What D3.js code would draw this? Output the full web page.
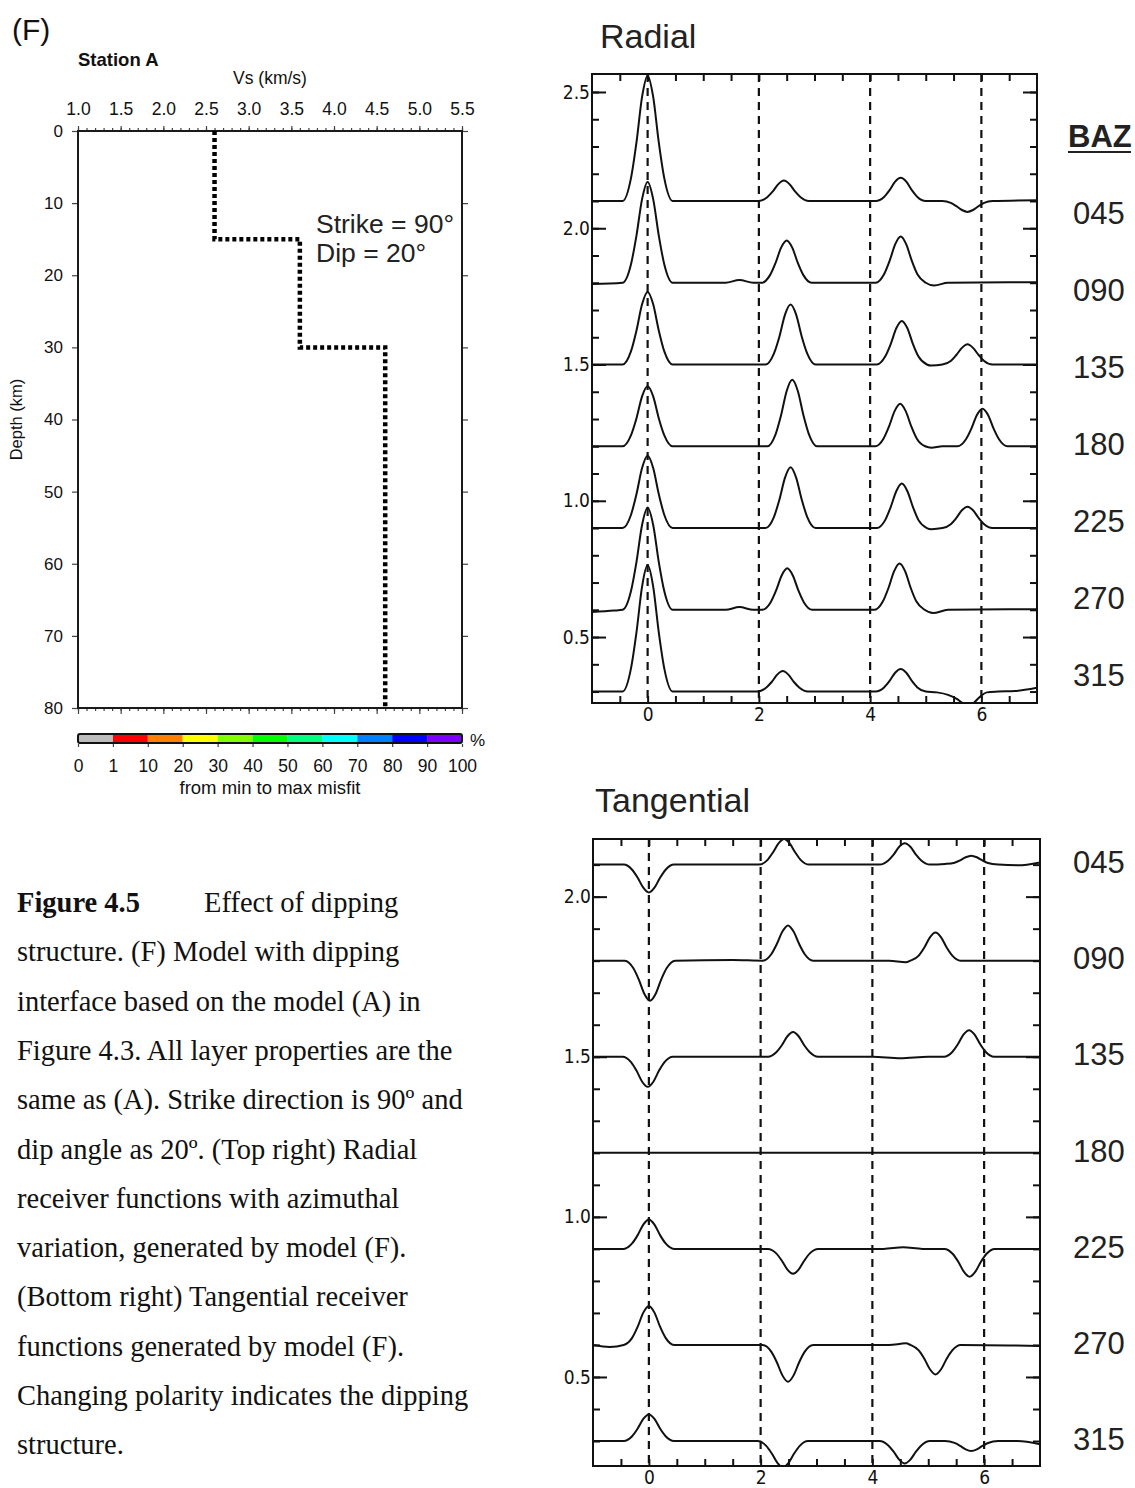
<!DOCTYPE html>
<html lang="en">
<head>
<meta charset="UTF-8">
<title>Figure 4.5 - dipping structure</title>
<script src="https://d3js.org/d3.v7.min.js"></script>
<style>
  body { margin: 0; background: #fff; }
  svg { display: block; }
  .sans { font-family: "Liberation Sans", Arial, Helvetica, sans-serif; }
  .narrow { font-family: "Liberation Sans Narrow", "DejaVu Sans Condensed", "Liberation Sans", sans-serif; }
  .serif { font-family: "Liberation Serif", "Times New Roman", serif; }
</style>
</head>
<body>
<svg id="fig" width="1135" height="1488"></svg>
<script>
// ---- data ----
const bazLabels = ["045", "090", "135", "180", "225", "270", "315"];
const baselines = [2.1, 1.8, 1.5, 1.2, 0.9, 0.6, 0.3];
const gridTimes = [0, 2, 4, 6];

// radial receiver functions: [time (s), amplitude above baseline]
const radialTraces = [
  [[-1,0],[-0.45,0],[-0.3,0.083],[-0.2,0.216],[-0.1,0.382],[0,0.46],[0.1,0.382],[0.2,0.216],[0.3,0.083],[0.45,0],[2.0,0],[2.15,0.014],[2.25,0.035],[2.35,0.062],[2.45,0.075],[2.55,0.062],[2.65,0.035],[2.75,0.014],[2.9,0],[4.1,0],[4.25,0.015],[4.35,0.04],[4.45,0.071],[4.55,0.085],[4.65,0.071],[4.75,0.04],[4.85,0.015],[5.0,0],[5.3,0],[5.45,-0.007],[5.55,-0.019],[5.65,-0.033],[5.75,-0.04],[5.85,-0.033],[5.95,-0.019],[6.05,-0.007],[6.2,0],[7,0.003]],
  [[-1,-0.005],[-0.45,0],[-0.3,0.067],[-0.2,0.174],[-0.1,0.307],[0,0.37],[0.1,0.307],[0.2,0.174],[0.3,0.067],[0.45,0],[1.4,0],[1.65,0.01],[1.9,0],[2.05,0],[2.2,0.028],[2.3,0.073],[2.4,0.129],[2.5,0.155],[2.6,0.129],[2.7,0.073],[2.8,0.028],[2.95,0],[4.1,0],[4.25,0.031],[4.35,0.08],[4.45,0.141],[4.55,0.17],[4.65,0.141],[4.75,0.08],[4.85,0.031],[5.0,0],[5.15,-0.01],[5.4,0],[7,0.002]],
  [[-1,0],[-0.45,0],[-0.3,0.048],[-0.2,0.125],[-0.1,0.221],[0,0.266],[0.1,0.221],[0.2,0.125],[0.3,0.048],[0.45,0],[2.12,0],[2.27,0.04],[2.37,0.103],[2.47,0.183],[2.57,0.22],[2.67,0.183],[2.77,0.103],[2.87,0.04],[3.02,0],[4.12,0],[4.27,0.029],[4.37,0.075],[4.47,0.133],[4.57,0.16],[4.67,0.133],[4.77,0.075],[4.87,0.029],[5.02,0],[5.1,-0.004],[5.3,0],[5.45,0.013],[5.55,0.035],[5.65,0.061],[5.75,0.074],[5.85,0.061],[5.95,0.035],[6.05,0.013],[6.2,0],[7,0]],
  [[-1,0],[-0.45,0],[-0.3,0.04],[-0.2,0.103],[-0.1,0.183],[0,0.22],[0.1,0.183],[0.2,0.103],[0.3,0.04],[0.45,0],[2.15,0],[2.3,0.044],[2.4,0.115],[2.5,0.203],[2.6,0.244],[2.7,0.203],[2.8,0.115],[2.9,0.044],[3.05,0],[4.09,0],[4.24,0.028],[4.34,0.073],[4.44,0.129],[4.54,0.156],[4.64,0.129],[4.74,0.073],[4.84,0.028],[4.99,0],[5.1,-0.005],[5.3,0],[5.57,0],[5.72,0.025],[5.82,0.065],[5.92,0.115],[6.02,0.138],[6.12,0.115],[6.22,0.065],[6.32,0.025],[6.47,0],[7,0]],
  [[-1,0],[-0.45,0],[-0.3,0.048],[-0.2,0.125],[-0.1,0.22],[0,0.265],[0.1,0.22],[0.2,0.125],[0.3,0.048],[0.45,0],[2.12,0],[2.27,0.04],[2.37,0.105],[2.47,0.185],[2.57,0.223],[2.67,0.185],[2.77,0.105],[2.87,0.04],[3.02,0],[4.12,0],[4.27,0.029],[4.37,0.077],[4.47,0.135],[4.57,0.163],[4.67,0.135],[4.77,0.077],[4.87,0.029],[5.02,0],[5.1,-0.004],[5.3,0],[5.45,0.014],[5.55,0.037],[5.65,0.065],[5.75,0.078],[5.85,0.065],[5.95,0.037],[6.05,0.014],[6.2,0],[7,0]],
  [[-1,-0.008],[-0.6,-0.003],[-0.45,0],[-0.3,0.068],[-0.2,0.176],[-0.1,0.311],[0,0.375],[0.1,0.311],[0.2,0.176],[0.3,0.068],[0.45,0],[1.4,0],[1.65,0.01],[1.9,0],[2.06,0],[2.21,0.027],[2.31,0.071],[2.41,0.126],[2.51,0.152],[2.61,0.126],[2.71,0.071],[2.81,0.027],[2.96,0],[4.08,0],[4.23,0.031],[4.33,0.08],[4.43,0.141],[4.53,0.17],[4.63,0.141],[4.73,0.08],[4.83,0.031],[4.98,0],[5.13,-0.012],[5.4,0],[7,0.002]],
  [[-1,0],[-0.45,0],[-0.3,0.084],[-0.2,0.218],[-0.1,0.385],[0,0.464],[0.1,0.385],[0.2,0.218],[0.3,0.084],[0.45,0],[1.98,0],[2.13,0.014],[2.23,0.035],[2.33,0.062],[2.43,0.075],[2.53,0.062],[2.63,0.035],[2.73,0.014],[2.88,0],[4.1,0],[4.25,0.015],[4.35,0.039],[4.45,0.069],[4.55,0.083],[4.65,0.069],[4.75,0.039],[4.85,0.015],[5.0,0],[5.2,-0.003],[5.4,-0.012],[5.55,-0.026],[5.67,-0.043],[5.77,-0.05],[5.87,-0.04],[5.97,-0.02],[6.1,-0.003],[6.3,0],[6.6,0.002],[7,0.014]]
];

// tangential receiver functions
const tangentialTraces = [
  [[-1,0],[-0.45,0],[-0.3,-0.016],[-0.2,-0.041],[-0.1,-0.072],[0,-0.087],[0.1,-0.072],[0.2,-0.041],[0.3,-0.016],[0.45,0],[1.97,0],[2.12,0.014],[2.22,0.038],[2.32,0.066],[2.42,0.08],[2.52,0.066],[2.62,0.038],[2.72,0.014],[2.87,0],[4.13,0],[4.28,0.012],[4.38,0.031],[4.48,0.056],[4.58,0.067],[4.68,0.056],[4.78,0.031],[4.88,0.012],[5.03,0],[5.3,0.002],[5.47,0.006],[5.57,0.013],[5.67,0.023],[5.77,0.028],[5.87,0.023],[5.97,0.013],[6.07,0.005],[6.25,0],[6.6,-0.002],[7,0.007]],
  [[-1,0],[-0.43,0],[-0.28,-0.023],[-0.18,-0.059],[-0.08,-0.104],[0.02,-0.125],[0.12,-0.104],[0.22,-0.059],[0.32,-0.023],[0.47,0],[1.5,0.002],[2.04,0],[2.19,0.02],[2.29,0.052],[2.39,0.091],[2.49,0.11],[2.59,0.091],[2.69,0.052],[2.79,0.02],[2.94,0],[4.3,0],[4.6,-0.005],[4.68,0],[4.83,0.016],[4.93,0.041],[5.03,0.073],[5.13,0.088],[5.23,0.073],[5.33,0.041],[5.43,0.016],[5.58,0],[7,0]],
  [[-1,0],[-0.47,0],[-0.32,-0.017],[-0.22,-0.044],[-0.12,-0.078],[-0.02,-0.094],[0.08,-0.078],[0.18,-0.044],[0.28,-0.017],[0.43,0],[2.13,0],[2.28,0.014],[2.38,0.036],[2.48,0.064],[2.58,0.077],[2.68,0.064],[2.78,0.036],[2.88,0.014],[3.03,0],[4.0,0],[4.5,-0.005],[5.0,0],[5.28,0],[5.43,0.015],[5.53,0.039],[5.63,0.069],[5.73,0.083],[5.83,0.069],[5.93,0.039],[6.03,0.015],[6.18,0],[7,0]],
  [[-1,0],[7,0]],
  [[-1,0],[-0.45,0],[-0.3,0.017],[-0.2,0.043],[-0.1,0.076],[0,0.092],[0.1,0.076],[0.2,0.043],[0.3,0.017],[0.45,0],[2.13,0],[2.28,-0.014],[2.38,-0.037],[2.48,-0.065],[2.58,-0.078],[2.68,-0.065],[2.78,-0.037],[2.88,-0.014],[3.03,0],[4.2,0],[4.55,0.005],[4.9,0],[5.29,0],[5.44,-0.016],[5.54,-0.041],[5.64,-0.072],[5.74,-0.087],[5.84,-0.072],[5.94,-0.041],[6.04,-0.016],[6.19,0],[7,0]],
  [[-1,0],[-0.7,-0.006],[-0.45,0],[-0.3,0.022],[-0.2,0.057],[-0.1,0.101],[0,0.122],[0.1,0.101],[0.2,0.057],[0.3,0.022],[0.45,0],[2.04,0],[2.19,-0.021],[2.29,-0.054],[2.39,-0.095],[2.49,-0.115],[2.59,-0.095],[2.69,-0.054],[2.79,-0.021],[2.94,0],[4.3,0],[4.6,0.005],[4.68,0],[4.83,-0.017],[4.93,-0.043],[5.03,-0.076],[5.13,-0.092],[5.23,-0.076],[5.33,-0.043],[5.43,-0.017],[5.58,0],[7,-0.003]],
  [[-1,0],[-0.45,0],[-0.3,0.015],[-0.2,0.039],[-0.1,0.069],[0,0.083],[0.1,0.069],[0.2,0.039],[0.3,0.015],[0.45,0],[1.95,0],[2.1,-0.015],[2.2,-0.039],[2.3,-0.068],[2.4,-0.082],[2.5,-0.068],[2.6,-0.039],[2.7,-0.015],[2.85,0],[4.13,0],[4.28,-0.013],[4.38,-0.033],[4.48,-0.058],[4.58,-0.07],[4.68,-0.058],[4.78,-0.033],[4.88,-0.013],[5.03,0],[5.3,0],[5.47,-0.006],[5.57,-0.015],[5.67,-0.026],[5.77,-0.031],[5.87,-0.026],[5.97,-0.015],[6.07,-0.006],[6.25,0],[6.6,0],[7,-0.01]]
];

// velocity model (Station A)
const layerVs = [2.6, 3.6, 4.6];
const layerTop = [0, 15, 30];
const layerBottom = [15, 30, 80];
const vsTicks = [1.0, 1.5, 2.0, 2.5, 3.0, 3.5, 4.0, 4.5, 5.0, 5.5];
const depthTicks = [0, 10, 20, 30, 40, 50, 60, 70, 80];

// misfit colour bar
const misfitLabels = ["0", "1", "10", "20", "30", "40", "50", "60", "70", "80", "90", "100"];
const misfitColors = ["#bcbcbc", "#ff0000", "#ff8000", "#ffff00", "#80ff00", "#00ff00",
                      "#00ff80", "#00ffff", "#0080ff", "#0000ff", "#8000ff"];

const captionLines = [
  "structure. (F) Model with dipping",
  "interface based on the model (A) in",
  "Figure 4.3. All layer properties are the",
  "same as (A). Strike direction is 90\u00BA and",
  "dip angle as 20\u00BA. (Top right) Radial",
  "receiver functions with azimuthal",
  "variation, generated by model (F).",
  "(Bottom right) Tangential receiver",
  "functions generated by model (F).",
  "Changing polarity indicates the dipping",
  "structure."
];

const svg = d3.select('#fig');
const ink = '#111';

// ---------- velocity model panel ----------
const mx = d3.scaleLinear().domain([1.0, 5.5]).range([78, 462]);
const my = d3.scaleLinear().domain([0, 80]).range([131, 708]);
const model = svg.append('g').attr('class', 'sans');

model.append('text').attr('x', 12).attr('y', 40).attr('font-size', 30).attr('fill', ink).text('(F)');
model.append('text').attr('x', 78).attr('y', 66).attr('font-size', 18.5).attr('font-weight', 'bold')
  .attr('fill', ink).text('Station A');
model.append('text').attr('x', 270).attr('y', 84).attr('font-size', 17.5).attr('text-anchor', 'middle')
  .attr('fill', ink).text('Vs (km/s)');

const minorVs = d3.range(10, 56).map(v => v / 10);

function styleAxis(g) {
  g.select('.domain').remove();
  g.selectAll('.tick line').attr('stroke', '#444').attr('stroke-width', 1.2);
  g.selectAll('text').attr('fill', ink).attr('font-family', null);
}

model.append('g').attr('transform', `translate(0,${my(0)})`)
  .call(d3.axisTop(mx).tickValues(minorVs).tickSize(3).tickFormat(''))
  .call(styleAxis);
model.append('g').attr('transform', `translate(0,${my(0)})`)
  .call(d3.axisTop(mx).tickValues(vsTicks).tickSize(5).tickPadding(11).tickFormat(d3.format('.1f')))
  .call(styleAxis).attr('font-size', 17.5);
model.append('g').attr('transform', `translate(0,${my(80)})`)
  .call(d3.axisBottom(mx).tickValues(minorVs).tickSize(3).tickFormat(''))
  .call(styleAxis);
model.append('g').attr('transform', `translate(0,${my(80)})`)
  .call(d3.axisBottom(mx).tickValues(vsTicks).tickSize(6).tickFormat(''))
  .call(styleAxis);
model.append('g').attr('transform', `translate(${mx(1.0)},0)`)
  .call(d3.axisLeft(my).tickValues(depthTicks).tickSize(6).tickPadding(9))
  .call(styleAxis).attr('font-size', 17);
model.append('g').attr('transform', `translate(${mx(5.5)},0)`)
  .call(d3.axisRight(my).tickValues(depthTicks).tickSize(6).tickFormat(''))
  .call(styleAxis);

model.append('rect')
  .attr('x', mx(1.0)).attr('y', my(0))
  .attr('width', mx(5.5) - mx(1.0)).attr('height', my(80) - my(0))
  .attr('fill', 'none').attr('stroke', '#1a1a1a').attr('stroke-width', 2);

model.append('text')
  .attr('transform', `translate(${22},${(my(0) + my(80)) / 2}) rotate(-90)`)
  .attr('text-anchor', 'middle').attr('font-size', 16.5).attr('fill', ink)
  .text('Depth (km)');

const stepPoints = [];
layerVs.forEach((v, i) => {
  stepPoints.push([v, layerTop[i]]);
  stepPoints.push([v, layerBottom[i]]);
});
model.append('path')
  .attr('d', d3.line().x(d => mx(d[0])).y(d => my(d[1]))(stepPoints))
  .attr('fill', 'none').attr('stroke', '#000').attr('stroke-width', 4.5)
  .attr('stroke-dasharray', '4,3');

model.append('text').attr('x', 316).attr('y', 233).attr('font-size', 26.5).attr('fill', '#222')
  .text('Strike = 90\u00B0');
model.append('text').attr('x', 316).attr('y', 262).attr('font-size', 26.5).attr('fill', '#222')
  .text('Dip = 20\u00B0');

// colour bar
const cb = d3.scaleLinear().domain([0, misfitColors.length]).range([78, 462]);
const cbar = svg.append('g').attr('class', 'sans');
cbar.selectAll('rect.seg').data(misfitColors).join('rect')
  .attr('class', 'seg')
  .attr('x', (d, i) => cb(i)).attr('y', 734)
  .attr('width', cb(1) - cb(0)).attr('height', 9)
  .attr('fill', d => d);
cbar.append('rect').attr('x', cb(0)).attr('y', 734)
  .attr('width', cb(misfitColors.length) - cb(0)).attr('height', 9)
  .attr('rx', 2).attr('fill', 'none').attr('stroke', '#111').attr('stroke-width', 2);
cbar.append('g').attr('transform', 'translate(0,744)')
  .call(d3.axisBottom(cb).tickValues(d3.range(misfitLabels.length)).tickSize(3)
    .tickPadding(13).tickFormat(i => misfitLabels[i]))
  .call(styleAxis).attr('font-size', 17.5);
cbar.append('text').attr('x', 470).attr('y', 746).attr('font-size', 17).attr('fill', ink).text('%');
cbar.append('text').attr('x', 270).attr('y', 794).attr('text-anchor', 'middle')
  .attr('font-size', 18.5).attr('fill', ink).text('from min to max misfit');

// ---------- receiver function panels ----------
function drawPanel(opt) {
  const x = d3.scaleLinear().domain([-1, 7]).range([opt.left, opt.right]);
  const y = d3.scaleLinear().domain(opt.yDomain).range([opt.bottom, opt.top]);
  const g = svg.append('g');

  g.append('text').attr('class', 'sans')
    .attr('x', opt.titleX).attr('y', opt.titleY).attr('font-size', 34).attr('fill', '#222')
    .text(opt.title);

  svg.append('clipPath').attr('id', 'clip-' + opt.name).append('rect')
    .attr('x', opt.left).attr('y', opt.top)
    .attr('width', opt.right - opt.left).attr('height', opt.bottom - opt.top);

  // dashed time markers
  g.selectAll('line.mark').data(gridTimes).join('line')
    .attr('class', 'mark')
    .attr('x1', d => x(d)).attr('x2', d => x(d))
    .attr('y1', opt.top).attr('y2', opt.bottom)
    .attr('stroke', ink).attr('stroke-width', 2.2).attr('stroke-dasharray', '8,6');

  // ticks (all pointing inward)
  const tTicks = d3.range(-0.5, 7, 0.5);
  const yMinor = d3.range(1, 30).map(v => v / 10).filter(v => v > opt.yDomain[0] && v < opt.yDomain[1]);
  const yMajor = yMinor.filter(v => Math.abs(v * 2 - Math.round(v * 2)) < 1e-6);
  const tickStyle = sel => {
    sel.select('.domain').remove();
    sel.selectAll('.tick line').attr('stroke', ink).attr('stroke-width', 2);
    sel.selectAll('text').attr('fill', ink).attr('font-family', null);
  };
  g.append('g').attr('transform', `translate(0,${opt.top})`)
    .call(d3.axisBottom(x).tickValues(tTicks).tickSize(7).tickFormat('')).call(tickStyle);
  g.append('g').attr('transform', `translate(0,${opt.bottom})`)
    .call(d3.axisTop(x).tickValues(tTicks).tickSize(7).tickFormat('')).call(tickStyle);
  g.append('g').attr('class', 'narrow').attr('transform', `translate(0,${opt.bottom})`)
    .call(d3.axisBottom(x).tickValues(gridTimes).tickSize(0).tickPadding(4)).call(tickStyle)
    .attr('font-size', 19);
  g.append('g').attr('transform', `translate(${opt.left},0)`)
    .call(d3.axisRight(y).tickValues(yMinor).tickSize(7).tickFormat('')).call(tickStyle);
  g.append('g').attr('class', 'narrow').attr('transform', `translate(${opt.left},0)`)
    .call(d3.axisLeft(y).tickValues(yMajor).tickSize(-14).tickPadding(2).tickFormat(d3.format('.1f')))
    .call(tickStyle).attr('font-size', 19);
  g.append('g').attr('transform', `translate(${opt.right},0)`)
    .call(d3.axisLeft(y).tickValues(yMinor).tickSize(7).tickFormat('')).call(tickStyle);
  g.append('g').attr('transform', `translate(${opt.right},0)`)
    .call(d3.axisLeft(y).tickValues(yMajor).tickSize(14).tickFormat('')).call(tickStyle);

  // traces
  const line = d3.line().x(d => x(d[0])).y(d => y(d[1])).curve(d3.curveMonotoneX);
  g.append('g').attr('clip-path', `url(#clip-${opt.name})`)
    .selectAll('path').data(opt.traces).join('path')
    .attr('d', (tr, i) => line(tr.map(p => [p[0], baselines[i] + p[1]])))
    .attr('fill', 'none').attr('stroke', ink).attr('stroke-width', 2)
    .attr('stroke-linejoin', 'round');

  g.append('rect')
    .attr('x', opt.left).attr('y', opt.top)
    .attr('width', opt.right - opt.left).attr('height', opt.bottom - opt.top)
    .attr('fill', 'none').attr('stroke', ink).attr('stroke-width', 2);

  // back-azimuth labels
  g.selectAll('text.baz').data(bazLabels).join('text')
    .attr('class', 'baz sans')
    .attr('x', 1073).attr('y', (d, i) => opt.labelY(i))
    .attr('font-size', 31).attr('fill', '#222')
    .text(d => d);
}

drawPanel({
  name: 'radial', title: 'Radial', titleX: 600, titleY: 48,
  left: 592, right: 1037, top: 74, bottom: 703,
  yDomain: [0.258, 2.566], traces: radialTraces,
  labelY: i => 224 + i * 77
});
drawPanel({
  name: 'tangential', title: 'Tangential', titleX: 595, titleY: 812,
  left: 593, right: 1040, top: 839, bottom: 1466,
  yDomain: [0.222, 2.18], traces: tangentialTraces,
  labelY: i => 873 + i * 96.2
});

svg.append('text').attr('class', 'sans')
  .attr('x', 1068).attr('y', 147).attr('font-size', 31).attr('font-weight', 'bold')
  .attr('fill', '#222').text('BAZ');
svg.append('line').attr('x1', 1068).attr('x2', 1131).attr('y1', 152).attr('y2', 152)
  .attr('stroke', '#222').attr('stroke-width', 2);

// ---------- caption ----------
const cap = svg.append('g').attr('class', 'serif').attr('font-size', 28.5).attr('fill', '#111');
const first = cap.append('text').attr('x', 17).attr('y', 912);
first.append('tspan').attr('font-weight', 'bold').text('Figure 4.5');
first.append('tspan').attr('x', 204).text('Effect of dipping');
cap.selectAll('text.line').data(captionLines).join('text')
  .attr('class', 'line')
  .attr('x', 17).attr('y', (d, i) => 912 + (i + 1) * 49.3)
  .text(d => d);
</script>
</body>
</html>
